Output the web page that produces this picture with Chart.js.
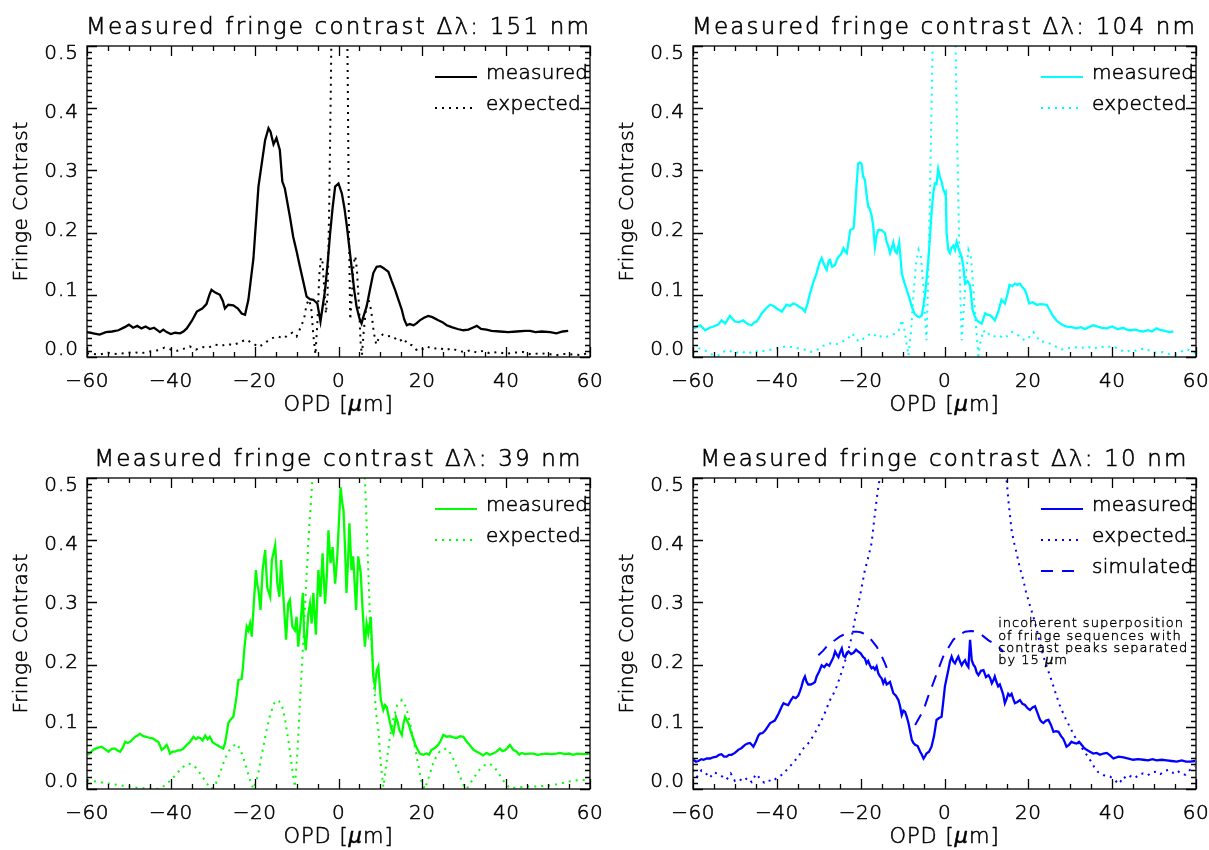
<!DOCTYPE html>
<html>
<head>
<meta charset="utf-8">
<title>Measured fringe contrast</title>
<script src="https://cdn.jsdelivr.net/npm/chart.js@4.4.1/dist/chart.umd.min.js"></script>
<style>
  html, body { margin: 0; padding: 0; background: #fff; }
  #wrap { position: relative; width: 1209px; height: 850px; overflow: hidden; }
  canvas { position: absolute; }
</style>
</head>
<body>
<div id="wrap">
  <canvas id="c151" width="604" height="425" style="left:0px;top:0px"></canvas>
  <canvas id="c104" width="604" height="425" style="left:605px;top:0px"></canvas>
  <canvas id="c39" width="604" height="425" style="left:0px;top:425px"></canvas>
  <canvas id="c10" width="604" height="425" style="left:605px;top:425px"></canvas>
</div>
<script>
// axis ticks (OPD in micron, fringe contrast)
const xTicks = [-60, -40, -20, 0, 20, 40, 60];
const yTicks = [0.0, 0.1, 0.2, 0.3, 0.4, 0.5];

// ---- dlambda = 151 nm ----
const measured151 = [[-60,.040],[-58.5,.038],[-57,.036],[-55.5,.040],[-54,.041],[-52.5,.043],[-51,.048],[-50,.052],[-49,.047],[-48,.050],[-47,.046],[-46,.049],[-45,.045],[-44,.047],[-43.4,.044],[-42.6,.040],[-41.8,.044],[-41,.040],[-40,.037],[-39,.039],[-37.8,.038],[-37,.041],[-36.2,.046],[-35,.058],[-33.8,.073],[-32.5,.078],[-31.5,.085],[-30.8,.100],[-30.3,.108],[-29.5,.104],[-28.3,.100],[-27.6,.090],[-27.1,.078],[-26.3,.084],[-25.1,.083],[-24,.078],[-23.1,.070],[-22.3,.068],[-21.5,.092],[-20.3,.158],[-19.1,.274],[-17.5,.349],[-16.7,.368],[-16.2,.362],[-15.9,.353],[-15.5,.342],[-14.8,.352],[-14,.333],[-13.4,.282],[-12.8,.271],[-11.6,.226],[-10.8,.193],[-10,.170],[-9.2,.145],[-8.3,.118],[-7.6,.097],[-6.8,.093],[-6,.092],[-5.05,.086],[-4.3,.057],[-3.8,.080],[-3.2,.108],[-2.6,.150],[-2,.199],[-1.4,.240],[-0.8,.274],[0,.279],[0.8,.263],[1.4,.240],[2,.210],[2.6,.175],[3.2,.140],[3.8,.105],[4.3,.081],[5,.062],[5.5,.054],[6,.066],[6.7,.081],[7.5,.108],[8.3,.135],[9.1,.145],[10,.146],[10.7,.143],[11.3,.140],[11.9,.137],[12.7,.122],[13.5,.108],[14.3,.092],[15.1,.076],[15.7,.060],[16.3,.051],[17,.053],[17.9,.051],[18.6,.054],[19.4,.059],[20.4,.063],[21.4,.066],[22.4,.064],[23.8,.059],[24.8,.056],[25.8,.051],[27,.048],[28.4,.045],[29.8,.043],[31,.044],[32,.047],[33,.050],[34,.045],[35.3,.044],[36.5,.042],[38.5,.041],[40.5,.040],[42.5,.041],[44.5,.042],[45.7,.042],[47,.040],[48.5,.041],[50.5,.040],[52,.038],[53.5,.041],[54.8,.042]];
const expected151 = [[-60,.006],[-57,.004],[-55,.007],[-53,.005],[-51,.006],[-49,.008],[-47,.006],[-45,.009],[-43,.011],[-41.5,.015],[-40,.012],[-38.5,.010],[-37,.013],[-35.5,.017],[-34,.012],[-32.5,.016],[-31,.015],[-29.5,.020],[-28,.018],[-26.5,.021],[-25,.019],[-23.5,.024],[-22,.028],[-20.5,.022],[-19,.016],[-17.5,.023],[-16,.030],[-14.5,.033],[-13,.030],[-12,.036],[-11,.039],[-10,.033],[-9,.048],[-8.2,.062],[-7.6,.085],[-7,.092],[-6.5,.078],[-6,.035],[-5.5,.004],[-5,.060],[-4.6,.130],[-4.2,.160],[-3.8,.152],[-3.4,.110],[-3,.070],[-2.6,.100],[-2.2,.250],[-1.8,.450],[-1.4,.700],[-0.8,.900],[0.2,1.0],[1.2,.900],[1.8,.700],[2.2,.450],[2.5,.200],[2.8,.060],[3.2,.100],[3.6,.150],[4,.162],[4.4,.140],[4.9,.080],[5.3,.020],[5.6,.003],[6,.040],[6.6,.080],[7.2,.092],[7.8,.075],[8.4,.040],[9,.020],[9.6,.030],[10.5,.036],[11.5,.033],[12.5,.034],[13.5,.030],[14.5,.025],[15.5,.030],[16.5,.021],[17.5,.019],[18.5,.012],[19.5,.010],[21,.017],[22.5,.013],[24,.015],[25.5,.011],[27,.014],[28.5,.010],[30,.008],[31.5,.011],[33,.007],[34.5,.010],[36,.006],[38,.008],[40,.005],[42,.007],[44,.008],[46,.004],[48,.006],[50,.005],[52,.003],[54,.005],[56,.004],[58,.003],[60,.008]];

// ---- dlambda = 104 nm ----
const measured104 = [[-59.9,.046],[-58.3,.051],[-57.1,.043],[-56,.047],[-55.1,.049],[-54,.052],[-53.2,.059],[-52.3,.054],[-51.2,.066],[-50,.057],[-49,.056],[-48,.059],[-47,.053],[-46,.051],[-45.5,.055],[-44.8,.057],[-43.6,.070],[-42.6,.078],[-41.6,.084],[-40.8,.082],[-40,.078],[-39.5,.076],[-38.8,.073],[-38.2,.079],[-37.7,.084],[-36.9,.082],[-36.1,.086],[-35.3,.084],[-34.5,.080],[-33.9,.078],[-33.3,.073],[-32.7,.085],[-32.1,.102],[-31.3,.120],[-30.5,.135],[-29.9,.150],[-29.3,.159],[-28.7,.148],[-28.1,.140],[-27.6,.155],[-27.3,.156],[-26.8,.145],[-26.1,.148],[-25.7,.156],[-25.3,.161],[-24.7,.165],[-24.1,.175],[-23.7,.170],[-23.3,.167],[-22.9,.185],[-22.5,.204],[-21.7,.207],[-21.3,.240],[-21,.274],[-20.6,.311],[-20.2,.313],[-19.8,.311],[-19.4,.290],[-19,.285],[-18.6,.262],[-18.2,.242],[-17.8,.238],[-17.4,.228],[-17,.210],[-16.6,.177],[-16.2,.195],[-15.8,.204],[-15,.204],[-14.2,.199],[-13.8,.185],[-13.4,.178],[-13,.167],[-12.6,.175],[-12.2,.184],[-11.8,.170],[-11.4,.167],[-10.8,.184],[-10.5,.160],[-10.2,.135],[-9.6,.120],[-9,.108],[-8.4,.095],[-7.8,.081],[-7.2,.070],[-6.6,.066],[-6,.064],[-5.4,.067],[-4.6,.102],[-4.2,.130],[-3.8,.161],[-3.5,.190],[-3.1,.231],[-2.7,.262],[-2.3,.279],[-1.9,.278],[-1.5,.302],[-1.1,.289],[-0.7,.282],[-0.3,.270],[0.1,.263],[0.3,.265],[0.5,.200],[0.9,.172],[1.3,.167],[1.7,.176],[2.1,.179],[2.5,.172],[2.9,.185],[3.3,.176],[3.7,.168],[4.1,.161],[4.5,.145],[4.9,.118],[5.5,.122],[6.1,.115],[6.7,.076],[7.2,.066],[7.7,.059],[8.3,.056],[8.9,.054],[9.3,.062],[9.7,.070],[10.3,.068],[10.9,.067],[11.5,.063],[12,.059],[12.8,.072],[13.6,.092],[14.1,.088],[14.4,.086],[15,.100],[15.5,.116],[16.2,.114],[16.8,.118],[17.4,.116],[18,.118],[18.6,.112],[19.2,.108],[19.7,.098],[20.2,.086],[21,.088],[22,.084],[23,.085],[24.4,.084],[25.2,.074],[26,.065],[26.8,.058],[27.6,.054],[28.3,.051],[29.1,.049],[30.3,.048],[31.5,.046],[32.5,.048],[33.5,.045],[34.5,.048],[35.5,.051],[36.5,.049],[37.6,.047],[38.7,.046],[40,.049],[41.3,.045],[42.7,.047],[43.5,.044],[44.3,.043],[45.5,.044],[46.5,.042],[47.4,.041],[48.5,.043],[49.5,.041],[50.6,.046],[51.6,.043],[52.6,.042],[53.6,.040],[54.6,.041]];
const expected104 = [[-60,.006],[-58.5,.014],[-57,.010],[-55.5,.004],[-54,.002],[-53,.008],[-51.5,.011],[-50,.006],[-48.5,.009],[-47,.005],[-45.5,.010],[-44,.008],[-42.5,.011],[-41,.012],[-39.5,.015],[-38,.017],[-36.5,.016],[-35,.014],[-33.5,.012],[-32,.008],[-30.5,.011],[-29,.018],[-27.5,.022],[-26,.020],[-24.5,.024],[-23,.030],[-22,.038],[-21,.028],[-20,.025],[-19,.032],[-18,.036],[-17,.038],[-16,.031],[-15,.034],[-14,.032],[-13,.035],[-12,.037],[-11,.041],[-10.2,.060],[-9.6,.045],[-9,.020],[-8.6,.002],[-8,.040],[-7.4,.100],[-6.8,.150],[-6.2,.172],[-5.6,.160],[-5,.110],[-4.6,.060],[-4.3,.027],[-3.9,.120],[-3.5,.250],[-3.1,.400],[-2.7,.550],[-2.2,.750],[-1,.950],[0,1.0],[1,.950],[2,.750],[2.5,.550],[2.9,.400],[3.3,.250],[3.7,.120],[4.1,.027],[4.5,.070],[5,.120],[5.7,.172],[6.3,.160],[6.9,.110],[7.5,.050],[8.1,.002],[8.6,.025],[9.3,.043],[10,.035],[10.9,.038],[12,.033],[13,.035],[14,.030],[15,.034],[16,.040],[17.2,.038],[18.2,.030],[19.2,.027],[20.2,.032],[21.2,.040],[22,.032],[23,.024],[24,.025],[25,.022],[26.5,.017],[28,.012],[29.5,.014],[31,.016],[32.5,.014],[34,.017],[35.5,.013],[37,.017],[38.5,.015],[40,.018],[41.5,.013],[43,.008],[44.5,.011],[46,.010],[47.5,.014],[49,.010],[50.5,.007],[52,.008],[53.5,.005],[55,.003],[56.5,.009],[58,.012],[60,.006]];

// ---- dlambda = 39 nm ----
const measured39 = [[-59.9,.055],[-59.2,.058],[-58.5,.063],[-57.5,.066],[-56.5,.068],[-55.7,.064],[-54.9,.060],[-54,.065],[-53.3,.065],[-52.7,.062],[-52.1,.060],[-51.5,.066],[-50.9,.076],[-50.3,.074],[-49.7,.076],[-49.1,.080],[-48.5,.084],[-47.9,.086],[-47.4,.089],[-46.6,.085],[-45.8,.084],[-45,.082],[-44.2,.081],[-43.6,.078],[-43,.076],[-42.6,.070],[-42.2,.063],[-41.6,.066],[-41,.071],[-40.6,.065],[-40.2,.057],[-39.6,.060],[-39,.060],[-38.4,.062],[-37.8,.062],[-37,.065],[-36.2,.071],[-35.4,.076],[-34.6,.084],[-34,.080],[-33.5,.083],[-33,.082],[-32.4,.078],[-31.8,.086],[-31.2,.080],[-30.7,.084],[-30,.075],[-29.1,.071],[-28.3,.068],[-27.5,.065],[-27.1,.073],[-26.6,.092],[-26.3,.106],[-25.7,.112],[-25.1,.116],[-24.7,.132],[-24.3,.150],[-23.9,.175],[-23.5,.176],[-23.1,.177],[-22.8,.195],[-22.5,.223],[-21.9,.261],[-21.5,.255],[-21.1,.266],[-20.7,.245],[-20.3,.288],[-19.7,.352],[-19.4,.330],[-19.1,.320],[-18.6,.288],[-18.1,.352],[-17.5,.384],[-17,.324],[-16.3,.309],[-15.9,.368],[-15.1,.392],[-14.6,.331],[-14.1,.309],[-13.7,.368],[-13.2,.315],[-12.5,.240],[-12,.298],[-11.6,.304],[-11,.261],[-10.4,.255],[-10,.277],[-9.6,.229],[-9,.271],[-8.5,.315],[-8.2,.250],[-7.8,.223],[-7.2,.282],[-6.8,.298],[-6.4,.266],[-6,.315],[-5.4,.248],[-4.8,.352],[-4.3,.309],[-3.8,.379],[-3.2,.298],[-2.8,.341],[-2.4,.416],[-1.9,.363],[-1.4,.389],[-0.8,.330],[-0.3,.373],[0.2,.443],[0.5,.485],[0.9,.460],[1.2,.448],[1.6,.380],[1.9,.315],[2.3,.370],[2.6,.427],[3.1,.352],[3.5,.374],[4.2,.288],[4.7,.374],[5.3,.347],[5.8,.282],[6.3,.229],[6.7,.266],[7.1,.250],[7.7,.277],[8.3,.181],[8.7,.165],[9.1,.190],[9.5,.197],[10.1,.143],[10.7,.127],[11.1,.135],[11.5,.132],[12.3,.106],[12.7,.095],[13.1,.089],[13.7,.116],[14.1,.108],[14.5,.095],[15.1,.087],[15.5,.105],[15.9,.116],[16.7,.105],[17.5,.087],[17.9,.080],[18.3,.071],[18.9,.063],[19.4,.057],[20.2,.055],[21,.057],[21.6,.055],[22.2,.063],[23,.066],[23.8,.071],[24.4,.078],[25,.087],[25.8,.084],[26.6,.085],[27.4,.083],[28.2,.082],[29,.085],[29.8,.084],[30.6,.076],[31.4,.070],[32.2,.063],[33,.060],[33.8,.057],[34.5,.054],[35.3,.058],[36.1,.055],[36.9,.057],[37.7,.060],[38.5,.065],[39.1,.061],[39.7,.062],[40.3,.066],[40.9,.071],[41.7,.063],[42.5,.060],[43.1,.055],[43.7,.058],[44.5,.056],[45.5,.057],[46.5,.057],[47.5,.055],[48.5,.056],[49.7,.057],[50.8,.056],[52,.057],[52.8,.058],[54,.056],[55,.057],[56,.055],[57,.057],[58.5,.056],[60,.057]];
const expected39 = [[-60,.014],[-58,.012],[-56,.010],[-54,.008],[-52,.006],[-50,.004],[-48,.002],[-46,.001],[-44,.0005],[-43,0],[-42,.003],[-41,.008],[-39.5,.018],[-38,.029],[-37,.036],[-35.8,.041],[-34.5,.038],[-33.5,.030],[-32.5,.020],[-31.3,.008],[-30.3,0],[-29.3,.008],[-28.3,.025],[-27.3,.045],[-26.3,.060],[-25.3,.068],[-24.3,.073],[-23.3,.062],[-22.3,.042],[-21.3,.018],[-20.3,0],[-19.3,.020],[-18.3,.055],[-17.3,.090],[-16.3,.120],[-15.3,.138],[-14.4,.143],[-13.5,.135],[-12.7,.110],[-11.9,.075],[-11.1,.035],[-10.4,.003],[-9.8,.060],[-9.2,.140],[-8.5,.225],[-7.8,.320],[-7,.420],[-6.2,.500],[-5,.640],[-3,.850],[0,1.0],[3,.850],[5,.640],[6.3,.500],[6.9,.390],[7.5,.277],[8.3,.180],[9,.120],[9.5,.095],[10.1,.040],[10.7,.003],[11.4,.040],[12.2,.080],[13,.110],[14,.135],[15.1,.143],[16.1,.132],[17.1,.105],[18,.075],[19,.040],[19.8,.012],[20.6,0],[21.5,.018],[22.5,.040],[23.5,.055],[24.5,.063],[25.8,.065],[27,.055],[28,.038],[29,.020],[29.8,.007],[30.6,0],[31.5,.010],[32.5,.020],[33.5,.030],[34.8,.038],[36,.041],[37.2,.035],[38.3,.024],[39.5,.012],[40.9,.001],[42,.002],[43.5,.003],[45,.004],[47,.004],[49,.005],[51,.006],[53,.009],[55,.012],[57,.014],[60,.015]];

// ---- dlambda = 10 nm ----
const measured10 = [[-59.9,.047],[-59.3,.044],[-58.7,.045],[-58,.048],[-57.5,.047],[-56.7,.049],[-55.9,.049],[-55.2,.051],[-54.4,.052],[-53.8,.055],[-53.2,.056],[-52.6,.052],[-52,.052],[-51.4,.055],[-50.8,.055],[-50,.058],[-49.2,.063],[-48.4,.066],[-47.6,.071],[-47,.073],[-46.4,.074],[-46,.071],[-45.6,.068],[-45,.076],[-44.4,.086],[-44,.089],[-43.4,.090],[-42.8,.094],[-42.2,.100],[-41.6,.106],[-41,.108],[-40.5,.110],[-40,.116],[-39.6,.121],[-39.2,.127],[-38.8,.133],[-38.4,.138],[-37.8,.136],[-37.3,.135],[-36.7,.142],[-36.1,.148],[-35.5,.146],[-34.9,.150],[-34.5,.157],[-34.1,.165],[-33.7,.175],[-33.3,.181],[-32.9,.172],[-32.5,.168],[-31.9,.168],[-31.3,.170],[-30.9,.172],[-30.5,.181],[-29.9,.189],[-29.3,.199],[-28.7,.196],[-28.1,.201],[-27.5,.198],[-26.9,.206],[-26.5,.212],[-26.1,.221],[-25.7,.216],[-25.3,.212],[-24.9,.220],[-24.5,.226],[-24.1,.214],[-23.7,.212],[-23.3,.219],[-22.9,.221],[-22.3,.217],[-21.7,.219],[-21.1,.224],[-20.6,.221],[-20,.218],[-19.4,.212],[-19,.210],[-18.6,.202],[-18.2,.206],[-17.8,.199],[-17.4,.194],[-17,.196],[-16.6,.192],[-16.2,.197],[-15.8,.186],[-15.4,.181],[-15,.178],[-14.6,.170],[-14.2,.176],[-13.8,.168],[-13.4,.170],[-13,.172],[-12.6,.163],[-12.2,.154],[-11.6,.150],[-11,.143],[-10.6,.133],[-10.2,.119],[-9.8,.126],[-9.4,.124],[-9,.116],[-8.6,.106],[-8.2,.093],[-7.8,.079],[-7.4,.074],[-7,.071],[-6.4,.069],[-5.8,.060],[-5.4,.055],[-5,.049],[-4.6,.053],[-4.3,.057],[-3.7,.060],[-3.1,.068],[-2.5,.085],[-1.9,.111],[-1.3,.114],[-0.7,.116],[-0.3,.140],[0.1,.165],[0.5,.178],[0.9,.191],[1.3,.205],[1.7,.213],[2.1,.205],[2.5,.202],[2.9,.208],[3.3,.213],[3.7,.205],[4.1,.199],[4.5,.204],[4.9,.207],[5.3,.200],[5.7,.196],[6.1,.240],[6.5,.207],[6.9,.200],[7.3,.196],[7.7,.187],[8.1,.183],[8.7,.190],[9.3,.191],[9.9,.180],[10.5,.183],[10.9,.178],[11.3,.170],[11.7,.175],[12,.181],[12.4,.172],[12.8,.165],[13.2,.168],[13.6,.160],[14,.152],[14.4,.138],[14.8,.145],[15.2,.153],[15.6,.150],[16,.153],[16.4,.145],[16.8,.138],[17.4,.140],[18,.143],[18.6,.137],[19.2,.135],[19.8,.130],[20.4,.127],[21,.131],[21.6,.133],[22.2,.122],[22.8,.111],[23.2,.108],[23.6,.106],[24.2,.110],[24.8,.111],[25.4,.103],[26,.092],[26.6,.093],[27.2,.092],[27.8,.085],[28.3,.081],[28.7,.075],[29.1,.068],[29.7,.071],[30.3,.076],[30.9,.074],[31.5,.073],[32.1,.076],[32.7,.071],[33.3,.066],[33.9,.063],[34.7,.060],[35.5,.057],[36.3,.058],[37.1,.055],[37.9,.057],[38.7,.058],[39.5,.054],[40.3,.049],[41.5,.052],[42.7,.051],[43.9,.049],[45,.047],[46.2,.048],[47.4,.047],[48.6,.046],[49.6,.048],[50.6,.046],[51.8,.047],[53,.046],[54.2,.045],[55.4,.044],[56.6,.046],[57.6,.044],[58.6,.044],[59.8,.045]];
const expected10 = [[-60,.031],[-59,.020],[-58,.030],[-57,.026],[-56,.018],[-55,.027],[-54,.024],[-53,.020],[-52,.015],[-51,.025],[-50,.013],[-49,.016],[-48,.012],[-47,.018],[-46,.011],[-45,.024],[-44,.017],[-43,.010],[-42,.014],[-41,.012],[-40,.018],[-39,.022],[-38.4,.025],[-37.5,.032],[-36.9,.036],[-36,.043],[-35.3,.049],[-34.5,.056],[-33.7,.065],[-32.9,.071],[-32.1,.076],[-31.3,.086],[-30.5,.095],[-29.7,.106],[-28.9,.116],[-28.1,.130],[-27.3,.143],[-26.5,.153],[-25.7,.165],[-24.9,.181],[-24.1,.197],[-23.3,.215],[-22.5,.234],[-21.9,.253],[-21.4,.272],[-20.8,.290],[-20.2,.309],[-19.6,.330],[-19,.352],[-18.2,.372],[-17.4,.395],[-16.6,.443],[-15.9,.480],[-15.2,.510],[-14,.58],[-10,.75],[-5,.9],[0,1.0],[5,.9],[10,.75],[13.5,.58],[14.7,.505],[15.3,.460],[16,.416],[16.6,.396],[17.2,.379],[18,.355],[18.8,.336],[19.4,.318],[20,.304],[20.6,.290],[21.2,.277],[21.8,.262],[22.4,.245],[23,.228],[23.6,.213],[24.4,.197],[25.2,.181],[26,.165],[26.8,.148],[27.5,.135],[28.3,.122],[29.1,.110],[29.9,.100],[30.7,.089],[31.5,.079],[32.3,.070],[33.1,.063],[33.9,.055],[34.7,.047],[35.3,.040],[35.9,.033],[36.5,.028],[37.1,.025],[38,.022],[39.5,.020],[40.7,.014],[41.5,.008],[42,.012],[42.7,.020],[43.5,.016],[44.5,.021],[45.5,.018],[46.5,.024],[47.4,.025],[48.5,.022],[49.5,.027],[50.6,.028],[51.5,.024],[52.5,.029],[53.5,.031],[54.5,.026],[55.5,.030],[56.5,.024],[57.5,.023],[58.6,.031],[59.8,.036]];
const simulated10 = [[-30.1,.215],[-29,.222],[-28,.230],[-27.3,.234],[-26,.240],[-25,.245],[-24.1,.248],[-23,.251],[-22,.253],[-21,.253],[-20,.252],[-19,.249],[-18.6,.248],[-17.5,.240],[-16.2,.229],[-15.2,.217],[-14.2,.202],[-13,.181],[-10,null],[-7,.103],[-6,.115],[-5,.127],[-4,.147],[-2.7,.170],[-1.5,.192],[-0.3,.213],[1,.228],[2.1,.240],[3.5,.248],[4.9,.253],[6.3,.254],[7.7,.253],[9,.247],[10.5,.239],[11.7,.234],[12.8,.229],[14,.221]];

// annotation in the 10 nm panel; '*' marks the italic mu
const noteLines = ['incoherent superposition', 'of fringe sequences with', 'contrast peaks separated', 'by 15 *m'];

const FONT = '"DejaVu Sans", "Liberation Sans", sans-serif';
const DOTS = [2, 5];
const DASHES = [12, 9];

const pts = (arr) => arr.map((p) => ({ x: p[0], y: p[1] }));

const setFont = (ctx, size, spacing, italic) => {
  ctx.font = (italic ? 'italic ' : '') + '200 ' + size + 'px ' + FONT;
  ctx.letterSpacing = (spacing || 0) + 'px';
};

// thin vector-like text: light face plus a hairline stroke
const ink = (ctx, text, x, y, w) => {
  ctx.lineWidth = w || 0.55;
  ctx.strokeText(text, x, y);
  ctx.fillText(text, x, y);
};

// text with '*' standing for an italic greek mu
const inkMu = (ctx, text, x, y, size, spacing, align, w) => {
  const parts = text.split('*');
  const pieces = [];
  parts.forEach((p, i) => {
    if (i > 0) pieces.push({ t: '\u03bc', it: true });
    if (p) pieces.push({ t: p, it: false });
  });
  let total = 0;
  pieces.forEach((p) => {
    setFont(ctx, size, spacing, p.it);
    p.w = ctx.measureText(p.t).width;
    total += p.w;
  });
  let px = align === 'center' ? x - total / 2 : x;
  ctx.textAlign = 'left';
  pieces.forEach((p) => {
    setFont(ctx, size, spacing, p.it);
    ink(ctx, p.t, px, y, w);
    px += p.w;
  });
};

const fmtX = (v) => (v < 0 ? '\u2212' + Math.abs(v) : String(v));

// IDL-like frame: box, inward ticks on four sides, labels, titles, legend
const idlFrame = {
  id: 'idlFrame',
  afterDraw(chart, args, o) {
    const { ctx, chartArea: a } = chart;
    const xs = chart.scales.x;
    const ys = chart.scales.y;
    const cx = (a.left + a.right) / 2;
    const cy = (a.top + a.bottom) / 2;
    ctx.save();
    ctx.strokeStyle = '#000';
    ctx.fillStyle = '#000';
    ctx.lineWidth = 1.3;
    ctx.setLineDash([]);
    ctx.strokeRect(a.left, a.top, a.right - a.left, a.bottom - a.top);

    ctx.beginPath();
    for (let v = -60; v <= 60; v += 5) {
      const px = Math.round(xs.getPixelForValue(v)) + 0.5;
      const len = v % 20 === 0 ? 10 : 5;
      ctx.moveTo(px, a.bottom);
      ctx.lineTo(px, a.bottom - len);
      ctx.moveTo(px, a.top);
      ctx.lineTo(px, a.top + len);
    }
    for (let i = 0; i <= 50; i++) {
      const py = Math.round(ys.getPixelForValue(i / 100)) + 0.5;
      const len = i % 10 === 0 ? 10 : 5;
      ctx.moveTo(a.left, py);
      ctx.lineTo(a.left + len, py);
      ctx.moveTo(a.right, py);
      ctx.lineTo(a.right - len, py);
    }
    ctx.stroke();

    // tick labels
    setFont(ctx, 20, 0.5);
    ctx.textAlign = 'center';
    ctx.textBaseline = 'alphabetic';
    xTicks.forEach((v) => {
      ink(ctx, fmtX(v), xs.getPixelForValue(v), a.bottom + 30);
    });
    setFont(ctx, 20, 1);
    ctx.textAlign = 'right';
    ctx.textBaseline = 'middle';
    yTicks.forEach((v) => {
      const py = ys.getPixelForValue(v);
      ink(ctx, v.toFixed(1), a.left - 8, py + (cy - py) * 0.048);
    });

    // axis titles
    ctx.textBaseline = 'alphabetic';
    inkMu(ctx, 'OPD [*m]', cx, a.bottom + 54, 21, 1, 'center');
    ctx.save();
    ctx.translate(a.left - 65, cy);
    ctx.rotate(-Math.PI / 2);
    setFont(ctx, 20, 0.5);
    ctx.textAlign = 'center';
    ctx.textBaseline = 'middle';
    ink(ctx, 'Fringe Contrast', 0, 0);
    ctx.restore();

    // plot title
    setFont(ctx, 23, 2.2);
    ctx.textAlign = 'center';
    ctx.textBaseline = 'alphabetic';
    ink(ctx, o.title, cx, a.top - 12, 0.6);

    // legend
    o.legend.forEach((item, i) => {
      const by = a.top + 33 + 31 * i;
      ctx.save();
      ctx.strokeStyle = o.color;
      ctx.lineWidth = 2.2;
      ctx.setLineDash(item.dash);
      ctx.beginPath();
      ctx.moveTo(a.right - 155, by - 2);
      ctx.lineTo(a.right - 113, by - 2);
      ctx.stroke();
      ctx.restore();
      setFont(ctx, 20, 0.3);
      ctx.textAlign = 'left';
      ctx.textBaseline = 'alphabetic';
      ink(ctx, item.label, a.right - 104, by);
    });

    // annotation
    if (o.note) {
      ctx.textBaseline = 'alphabetic';
      const nx = xs.getPixelForValue(o.note.x);
      const ny = ys.getPixelForValue(o.note.y);
      o.note.lines.forEach((t, i) => inkMu(ctx, t, nx, ny + i * 12.3, 13, 1, 'left', 0.4));
    }
    ctx.restore();
  },
};

const makeChart = (id, pad, color, title, series, note) => {
  const datasets = series.map((s) => ({
    data: pts(s.data),
    borderColor: color,
    borderWidth: s.dash.length ? 2 : 2.3,
    borderDash: s.dash,
    borderCapStyle: 'butt',
    pointRadius: 0,
    showLine: true,
    tension: 0,
    spanGaps: false,
    clip: 0,
  }));
  return new Chart(document.getElementById(id), {
    type: 'scatter',
    data: { datasets: datasets },
    options: {
      responsive: false,
      animation: false,
      devicePixelRatio: 1,
      layout: { padding: pad },
      scales: {
        x: { type: 'linear', min: -60, max: 60, display: false },
        y: { type: 'linear', min: 0, max: 0.5, display: false },
      },
      plugins: {
        legend: { display: false },
        tooltip: { enabled: false },
        idlFrame: {
          title: title,
          color: color,
          legend: series.filter((s) => s.label).map((s) => ({ label: s.label, dash: s.dash })),
          note: note,
        },
      },
    },
    plugins: [idlFrame],
  });
};

const padLeft = { left: 87, right: 14, top: 46, bottom: 68 };
const padRight = { left: 88, right: 13, top: 46, bottom: 68 };
const padLeftLow = { left: 87, right: 14, top: 53, bottom: 61 };
const padRightLow = { left: 88, right: 13, top: 53, bottom: 61 };

makeChart('c151', padLeft, '#000000', 'Measured fringe contrast \u0394\u03bb: 151 nm', [
  { label: 'measured', data: measured151, dash: [] },
  { label: 'expected', data: expected151, dash: DOTS },
]);
makeChart('c104', padRight, '#00ffff', 'Measured fringe contrast \u0394\u03bb: 104 nm', [
  { label: 'measured', data: measured104, dash: [] },
  { label: 'expected', data: expected104, dash: DOTS },
]);
makeChart('c39', padLeftLow, '#00ff00', 'Measured fringe contrast \u0394\u03bb: 39 nm', [
  { label: 'measured', data: measured39, dash: [] },
  { label: 'expected', data: expected39, dash: DOTS },
]);
makeChart('c10', padRightLow, '#0000ff', 'Measured fringe contrast \u0394\u03bb: 10 nm', [
  { label: 'measured', data: measured10, dash: [] },
  { label: 'expected', data: expected10, dash: DOTS },
  { label: 'simulated', data: simulated10, dash: DASHES },
], { x: 12.8, y: 0.26, lines: noteLines });
</script>
</body>
</html>
